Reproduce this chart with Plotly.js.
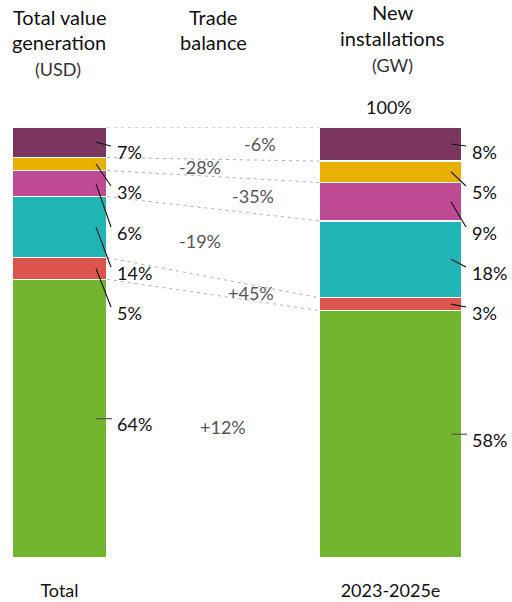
<!DOCTYPE html>
<html>
<head>
<meta charset="utf-8">
<script src="https://cdn.plot.ly/plotly-3.0.1.min.js"></script>
<style>html,body{margin:0;padding:0;background:#fff;}#chart{width:512px;height:602px;}</style>
</head>
<body>
<div id="chart"></div>
<script>
// ---- data (bottom segment first) ----
const segments = ['Segment A', 'Segment B', 'Segment C', 'Segment D', 'Segment E', 'Segment F'];
const barLabels = ['Total', '2023-2025e'];
const valueShare = [64, 5, 14, 6, 3, 7];      // Total value generation (USD), %
const installShare = [58, 3, 18, 9, 5, 8];    // New installations (GW), %
const tradeBalance = ['+12%', '+45%', '-19%', '-35%', '-28%', '-6%'];
const totalLabel = '100%';

// ---- style / layout constants ----
const colors = ['#72B52F', '#DC544E', '#21B5B5', '#BE4A93', '#E8B000', '#7B3660'];
const FONT = 'Lato, "Open Sans", sans-serif';
const PLOT_TOP = 127, PLOT_H = 431;
const barCenters = [59.5, 390.5];
const barWidths = [95, 143];
const leftEdgeR = barCenters[0] + barWidths[0] / 2;
const rightEdgeL = barCenters[1] - barWidths[1] / 2;
const rightEdgeR = barCenters[1] + barWidths[1] / 2;
const labelSlotsPx = [null, 313, 273, 233, 192, 152];   // label ladder (pixel rows)
const tradeLabelX = [223, 251, 200, 253, 200, 260];
const pxY = p => (PLOT_TOP + PLOT_H - p) / PLOT_H * 100;  // pixel row -> y units
const pxPaper = p => (PLOT_TOP + PLOT_H - p) / PLOT_H;    // pixel row -> paper units
const PXU = 100 / PLOT_H;

function cumulative(arr) {
  const s = arr.reduce((a, b) => a + b, 0);
  const out = [0];
  arr.forEach(v => out.push(out[out.length - 1] + v / s * 100));
  return out;
}
const cumL = cumulative(valueShare);
const cumR = cumulative(installShare);

const traces = segments.map((name, i) => ({
  type: 'bar',
  name: name,
  x: barCenters,
  y: [valueShare[i], installShare[i]],
  width: barWidths,
  marker: {color: colors[i], line: {color: '#ffffff', width: 1.5}},
  hovertemplate: '%{y:.0f}%<extra>' + name + '</extra>'
}));

const shapes = [];
const annotations = [];

// dashed connectors between boundaries
for (let k = 1; k < cumL.length; k++) {
  shapes.push({type: 'line', xref: 'x', yref: 'y', x0: leftEdgeR, y0: cumL[k], x1: rightEdgeL, y1: cumR[k],
    line: {color: '#b0b0b0', width: 1, dash: '3px,4px'}});
}

function addLabels(shares, cum, edge) {
  shares.forEach((v, i) => {
    const mid = (cum[i] + cum[i + 1]) / 2;
    let ly;
    if (labelSlotsPx[i] == null) {
      ly = mid - 5.5 * PXU;
      shapes.push({type: 'line', x0: edge - 11, x1: edge + 5, y0: mid, y1: mid, line: {color: '#555', width: 1.2}});
    } else {
      ly = pxY(labelSlotsPx[i]);
      shapes.push({type: 'line', x0: edge - 11, x1: edge + 4, y0: mid, y1: ly + 6 * PXU, line: {color: '#111', width: 1.1}});
    }
    annotations.push({x: edge + 8, y: ly, xanchor: 'left', yanchor: 'middle', text: v + '%', showarrow: false,
      font: {family: FONT, size: 18, color: '#111'}});
  });
}
addLabels(valueShare, cumL, leftEdgeR);
addLabels(installShare, cumR, rightEdgeR);

// trade balance labels between connectors
tradeBalance.forEach((t, i) => {
  const f = (tradeLabelX[i] - leftEdgeR) / (rightEdgeL - leftEdgeR);
  const lo = cumL[i] + (cumR[i] - cumL[i]) * f;
  const hi = cumL[i + 1] + (cumR[i + 1] - cumL[i + 1]) * f;
  annotations.push({x: tradeLabelX[i], y: (lo + hi) / 2, xanchor: 'center', yanchor: 'middle', text: t, showarrow: false,
    font: {family: FONT, size: 18, color: '#555'}});
});

// headers (paper coordinates, above the plot area)
function head(text, x, py, size, color) {
  annotations.push({xref: 'x', yref: 'paper', x: x, y: pxPaper(py), xanchor: 'center', yanchor: 'middle', text: text,
    showarrow: false, font: {family: FONT, size: size, color: color}});
}
head('Total value', 59, 17, 20, '#111');
head('generation', 59, 42, 20, '#111');
head('(USD)', 58, 69, 18, '#333');
head('Trade', 213, 17, 20, '#111');
head('balance', 213, 42, 20, '#111');
head('New', 392, 12, 20, '#111');
head('installations', 392, 38, 20, '#111');
head('(GW)', 392, 65, 18, '#333');
head(totalLabel, 389, 107, 18, '#111');

const layout = {
  width: 512, height: 602,
  margin: {l: 0, r: 0, t: PLOT_TOP, b: 602 - PLOT_TOP - PLOT_H, pad: 0},
  paper_bgcolor: '#fff', plot_bgcolor: '#fff',
  barmode: 'stack', barnorm: 'percent',
  showlegend: false,
  xaxis: {range: [0, 512], tickvals: barCenters, ticktext: barLabels, showgrid: false, zeroline: false,
    showline: false, ticks: '', ticklabelstandoff: 20, tickfont: {family: FONT, size: 18, color: '#111'}, fixedrange: true},
  yaxis: {range: [0, 100], visible: false, fixedrange: true},
  shapes: shapes,
  annotations: annotations
};

Plotly.newPlot('chart', traces, layout, {displayModeBar: false, staticPlot: true});
</script>
</body>
</html>
